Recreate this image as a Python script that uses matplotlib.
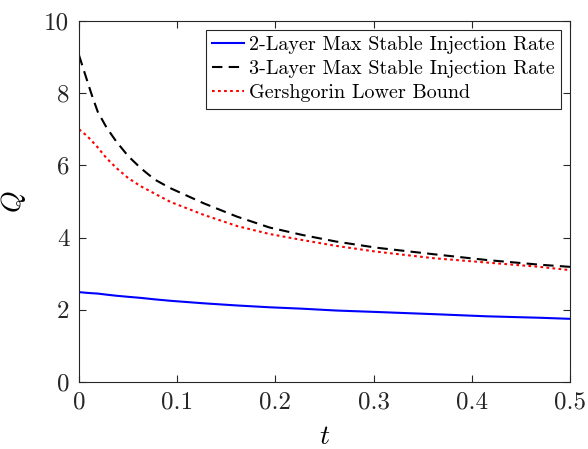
import matplotlib.pyplot as plt
import numpy as np

plt.rcParams['font.family'] = 'cmr10'
plt.rcParams['mathtext.fontset'] = 'cm'
plt.rcParams['axes.formatter.use_mathtext'] = True

# values
t = [0, 0.008, 0.013, 0.019, 0.028, 0.038, 0.05, 0.063, 0.077, 0.093,
     0.127, 0.161, 0.194, 0.228, 0.262, 0.303, 0.361, 0.415, 0.469, 0.5]
q_two = [2.49, 2.47, 2.46, 2.45, 2.42, 2.39, 2.36, 2.33, 2.29, 2.25,
         2.18, 2.12, 2.07, 2.03, 1.98, 1.94, 1.88, 1.82, 1.78, 1.75]
q_three = [9.05, 8.37, 7.95, 7.49, 7.05, 6.66, 6.26, 5.92, 5.61, 5.37,
           4.95, 4.58, 4.28, 4.07, 3.89, 3.72, 3.54, 3.38, 3.25, 3.19]
q_gersh = [7.00, 6.82, 6.68, 6.50, 6.20, 5.93, 5.65, 5.42, 5.22, 4.99,
           4.63, 4.32, 4.10, 3.93, 3.77, 3.61, 3.43, 3.31, 3.19, 3.10]

labels = ['2-Layer Max Stable Injection Rate',
          '3-Layer Max Stable Injection Rate',
          'Gershgorin Lower Bound']
xticks = [0, 0.1, 0.2, 0.3, 0.4, 0.5]
yticks = [0, 2, 4, 6, 8, 10]

fig = plt.figure(figsize=(5.88, 4.49), dpi=100)
ax = fig.add_axes([0.1344, 0.1492, 0.835, 0.804])

ax.plot(t, q_two, color='#0000ff', lw=1.5, label=labels[0])
ax.plot(t, q_three, color='black', lw=1.5, ls=(0, (5, 3)), label=labels[1])
ax.plot(t, q_gersh, color='#ff0000', lw=1.5, ls=(0, (1.3, 1.6)), label=labels[2])

ax.set_xlim(0, 0.5)
ax.set_ylim(0, 10)
ax.set_xticks(xticks)
ax.set_yticks(yticks)
ax.set_xticklabels([f'{v:g}' for v in xticks])
ax.set_yticklabels([f'{v:g}' for v in yticks])
ax.tick_params(direction='in', length=5, width=0.8, labelsize=18, colors='#262626',
               top=True, right=True, pad=7)
for s in ax.spines.values():
    s.set_color('#262626')
    s.set_linewidth(0.8)

ax.set_xlabel('$t$', fontsize=20, labelpad=7)
ax.set_ylabel('$Q$', fontsize=20, labelpad=12)

leg = ax.legend(loc='upper right', fontsize=14.5, frameon=True, fancybox=False,
                edgecolor='#262626', framealpha=1, handlelength=1.6,
                handletextpad=0.25, borderpad=0.3, labelspacing=0.3,
                borderaxespad=0.45)
leg.get_frame().set_linewidth(0.8)

fig.savefig('out.png', dpi=100)
